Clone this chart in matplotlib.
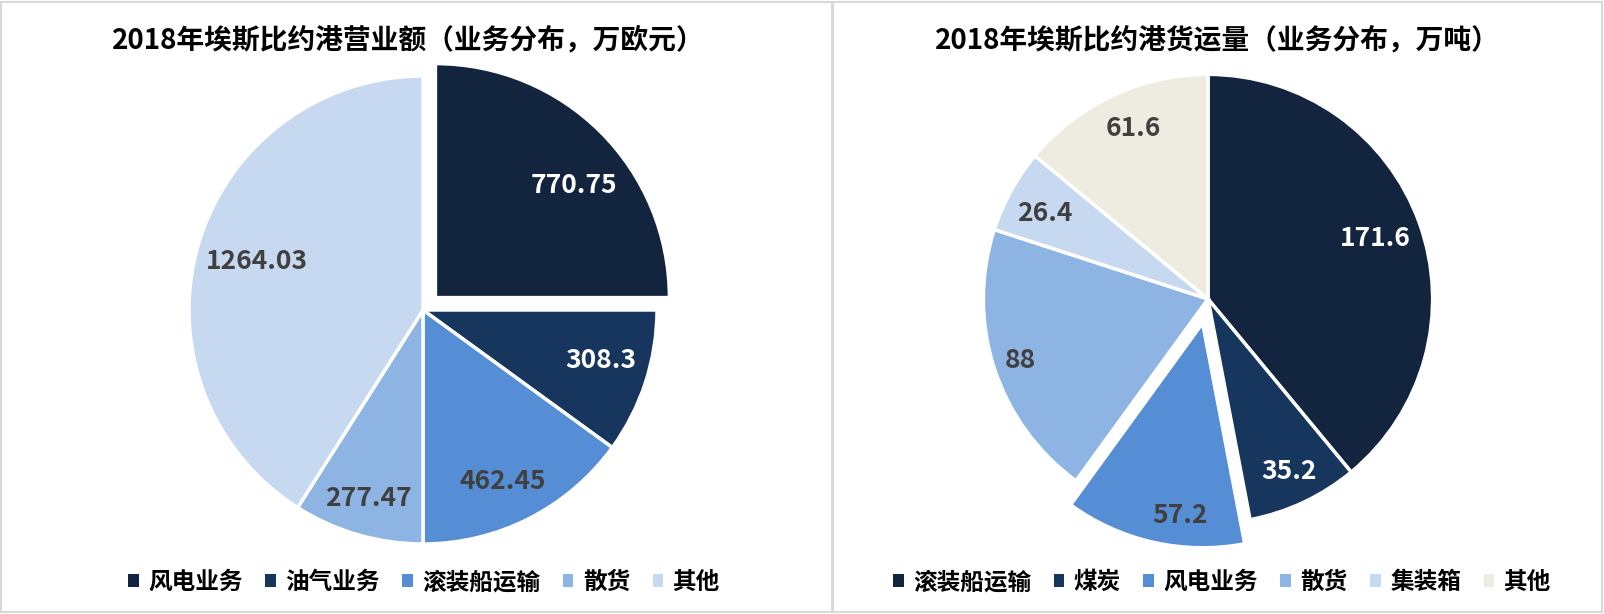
import numpy as np
import matplotlib
matplotlib.use("Agg")
import matplotlib.pyplot as plt
from matplotlib.patches import Rectangle, Patch

plt.rcParams['font.family'] = ['Noto Sans CJK SC', 'DejaVu Sans']

# data
left_title = "2018年埃斯比约港营业额（业务分布，万欧元）"
left_names = ["风电业务", "油气业务", "滚装船运输", "散货", "其他"]
left_values = [770.75, 308.3, 462.45, 277.47, 1264.03]
left_labels = ["770.75", "308.3", "462.45", "277.47", "1264.03"]

right_title = "2018年埃斯比约港货运量（业务分布，万吨）"
right_names = ["滚装船运输", "煤炭", "风电业务", "散货", "集装箱", "其他"]
right_values = [171.6, 35.2, 57.2, 88, 26.4, 61.6]
right_labels = ["171.6", "35.2", "57.2", "88", "26.4", "61.6"]

# styles
left_colors = ["#13243F", "#17365D", "#558ED5", "#8EB4E3", "#C6D9F1"]
right_colors = ["#13243F", "#17365D", "#558ED5", "#8EB4E3", "#C6D9F1", "#EEECE1"]
left_text = ["white", "white", "#404040", "#404040", "#404040"]
right_text = ["white", "white", "#404040", "#404040", "#404040", "#404040"]
left_explode = [0.075, 0, 0, 0, 0]
right_explode = [0, 0, 0.11, 0, 0, 0]
# label distance (radius units) and angle tweak (degrees) per wedge
left_ldist = [0.76, 0.79, 0.81, 0.84, 0.74]
left_aoff = [-6, 2, -2, 0, 0]
right_ldist = [0.79, 0.85, 0.86, 0.88, 0.82, 0.83]
right_aoff = [0, 0, 6, 0, 1, -1.5]

W, H = 1604, 614
fig = plt.figure(figsize=(W / 100, H / 100), dpi=100)


def px_axes(cx, cy, r, pad=1.3):
    s = r * pad
    ax = fig.add_axes([(cx - s) / W, 1 - (cy + s) / H, 2 * s / W, 2 * s / H])
    ax.set_xlim(-pad, pad)
    ax.set_ylim(-pad, pad)
    ax.set_aspect('equal')
    ax.axis('off')
    return ax


def draw_pie(ax, values, labels, colors, explode, tcolors, ldist, aoff):
    wedges, _ = ax.pie(values, colors=colors, explode=explode, startangle=90,
                       counterclock=False, radius=1,
                       wedgeprops=dict(edgecolor='white', linewidth=2.5))
    for w, lab, tc, d, a in zip(wedges, labels, tcolors, ldist, aoff):
        mid = np.deg2rad((w.theta1 + w.theta2) / 2 + a)
        x = w.center[0] + d * np.cos(mid)
        y = w.center[1] + d * np.sin(mid)
        ax.text(x, y, lab, ha='center', va='center', fontsize=19,
                fontweight='bold', color=tc)


ax1 = px_axes(423, 310, 225)
draw_pie(ax1, left_values, left_labels, left_colors, left_explode, left_text,
         left_ldist, left_aoff)
ax2 = px_axes(1208, 299, 216)
draw_pie(ax2, right_values, right_labels, right_colors, right_explode, right_text,
         right_ldist, right_aoff)

# panel borders
for x0, x1 in [(1, 832), (833, 1602)]:
    fig.add_artist(Rectangle((x0 / W, 1 - 612 / H), (x1 - x0) / W, 610 / H,
                             transform=fig.transFigure, fill=False,
                             edgecolor='#D9D9D9', linewidth=1.5))

fig.text(408 / W, 1 - 40 / H, left_title, ha='center', va='center',
         fontsize=20, fontweight='bold')
fig.text(1217 / W, 1 - 40 / H, right_title, ha='center', va='center',
         fontsize=20, fontweight='bold')

for names, colors, cx in [(left_names, left_colors, 424), (right_names, right_colors, 1222)]:
    handles = [Patch(facecolor=c, edgecolor='none') for c in colors]
    fig.legend(handles, names, loc='center', bbox_to_anchor=(cx / W, 1 - 582 / H),
               ncol=len(names), frameon=False, prop=dict(size=17, weight='bold'),
               handlelength=0.45, handleheight=0.45, handletextpad=0.4,
               columnspacing=0.95)

fig.savefig("out.png", dpi=100)
